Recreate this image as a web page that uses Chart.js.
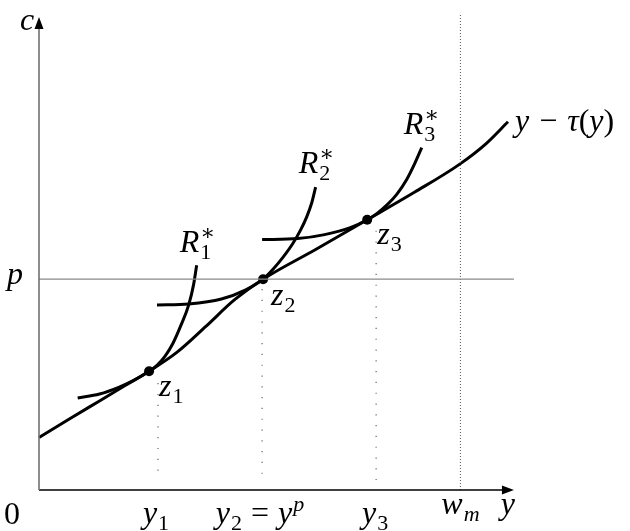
<!DOCTYPE html>
<html>
<head>
  <title>Net income and reference curves</title>
  <style>
    html, body { margin: 0; padding: 0; background: #fff; }
  </style>
</head>
<body>
  <canvas id="myChart" width="630" height="531"></canvas>
  <script src="https://cdn.jsdelivr.net/npm/chart.js@4.4.0/dist/chart.umd.min.js"></script>

  <script>
    // net income curve y - tau(y)
    const netX = [0, 31, 61, 86, 111, 139, 168, 197, 226, 279, 331, 379, 424, 451, 473];
    const netY = [53, 72, 90, 105, 120, 139, 165, 192, 213, 243, 273, 301, 329, 350, 372];

    // reference curves R1*, R2*, R3*
    const r1X = [39, 61, 81, 96, 111, 119, 127, 135, 143, 151, 156, 159];
    const r1Y = [93, 97, 104, 111, 120, 126, 135, 148, 166, 187, 208, 227];
    const r2X = [119, 151, 184, 208, 226, 236, 246, 256, 264, 270, 275, 279];
    const r2Y = [187, 188, 193, 202, 213, 223, 235, 249, 263, 276, 290, 306];
    const r3X = [225, 261, 288, 314, 331, 341, 351, 361, 371, 379, 386];
    const r3Y = [253, 254, 258, 265, 273, 279.5, 288, 299, 314, 330, 346];

    // tangency points z1, z2, z3
    const zX = [111, 226, 331];
    const zY = [120, 213, 273];

    // x positions of the y1, y2, y3 guides and where they start
    const guideX = [120, 225, 340];
    const guideTop = [108, 203, 262];
    const guideBottom = 10;

    const pLevel = 213;
    const wmX = 425;
    const xAxisEnd = 479;
    const yAxisEnd = 478;

    const toPts = (xs, ys) => xs.map((x, i) => ({ x: x, y: ys[i] }));

    function curve(xs, ys) {
      return {
        data: toPts(xs, ys),
        showLine: true,
        borderColor: '#000',
        borderWidth: 3,
        pointRadius: 0,
        cubicInterpolationMode: 'monotone',
        clip: false
      };
    }

    function rule(pts, color, width, dash) {
      return {
        data: pts,
        showLine: true,
        borderColor: color,
        borderWidth: width,
        borderDash: dash || [],
        pointRadius: 0,
        clip: false
      };
    }

    let datasets = [
      rule([{ x: 0, y: 0 }, { x: 0, y: yAxisEnd - 8 }], '#707070', 1.6),
      rule([{ x: 0, y: 0 }, { x: xAxisEnd - 8, y: 0 }], '#000', 1.6),
      rule([{ x: 0, y: pLevel }, { x: xAxisEnd, y: pLevel }], '#8a8a8a', 1.2),
      rule([{ x: wmX, y: 0 }, { x: wmX, y: yAxisEnd + 4 }], '#555', 1, [1, 2])
    ];
    guideX.forEach((gx, i) => {
      datasets.push(rule([{ x: gx, y: guideTop[i] }, { x: gx, y: guideBottom }], '#666', 1.2, [1.2, 9.6]));
    });
    datasets.push(curve(netX, netY));
    datasets.push(curve(r1X, r1Y));
    datasets.push(curve(r2X, r2Y));
    datasets.push(curve(r3X, r3Y));
    datasets.push({
      data: toPts(zX, zY),
      showLine: false,
      pointRadius: 5,
      pointBackgroundColor: '#000',
      pointBorderColor: '#000',
      pointBorderWidth: 0,
      clip: false
    });

    const BASE = 32, SCRIPT = 22;
    const IT = '"Liberation Serif", "DejaVu Serif", serif';

    // a label is a list of segments: [kind, text, (text2)]
    function segFont(k) {
      if (k === 'i') return 'italic ' + BASE + 'px ' + IT;
      if (k === 'r') return BASE + 'px ' + IT;
      if (k === 'isub' || k === 'isup') return 'italic ' + SCRIPT + 'px ' + IT;
      return SCRIPT + 'px ' + IT;
    }

    function segWidth(ctx, s) {
      if (s[0] === 'gap') return s[1];
      ctx.font = segFont(s[0]);
      if (s[0] === 'subsup') return Math.max(ctx.measureText(s[1]).width, ctx.measureText(s[2]).width) + 1;
      if (s[0] === 'i' || s[0] === 'r') return ctx.measureText(s[1]).width;
      return ctx.measureText(s[1]).width + 1;
    }

    function drawMath(ctx, segs, x, y, align) {
      let w = segs.reduce((a, s) => a + segWidth(ctx, s), 0);
      let cx = align === 'center' ? x - w / 2 : x;
      ctx.textAlign = 'left';
      ctx.textBaseline = 'alphabetic';
      ctx.fillStyle = '#000';
      segs.forEach(s => {
        let k = s[0];
        let sw = segWidth(ctx, s);
        if (k === 'gap') { cx += sw; return; }
        ctx.font = segFont(k);
        if (k === 'i' || k === 'r') {
          ctx.fillText(s[1], cx, y);
        } else if (k === 'subsup') {
          ctx.fillText(s[1], cx + 1, y - 12);
          ctx.fillText(s[2], cx + 1, y + 7);
        } else {
          let dy = (k === 'sub' || k === 'isub') ? 7 : -12;
          ctx.fillText(s[1], cx + 1, y + dy);
        }
        cx += sw;
      });
    }

    const labelPlugin = {
      id: 'labels',
      afterDatasetsDraw(chart) {
        const ctx = chart.ctx;
        const xs = chart.scales.x, ys = chart.scales.y;
        const px = v => xs.getPixelForValue(v);
        const py = v => ys.getPixelForValue(v);
        ctx.save();

        // arrow heads
        ctx.fillStyle = '#000';
        ctx.beginPath();
        ctx.moveTo(px(0), py(yAxisEnd));
        ctx.lineTo(px(0) - 4.5, py(yAxisEnd) + 12);
        ctx.lineTo(px(0) + 4.5, py(yAxisEnd) + 12);
        ctx.closePath();
        ctx.fill();
        ctx.beginPath();
        ctx.moveTo(px(xAxisEnd), py(0));
        ctx.lineTo(px(xAxisEnd) - 12, py(0) - 4.5);
        ctx.lineTo(px(xAxisEnd) - 12, py(0) + 4.5);
        ctx.closePath();
        ctx.fill();

        // axis and tick labels
        drawMath(ctx, [['i', 'c']], px(0) - 12, py(yAxisEnd) + 13, 'center');
        drawMath(ctx, [['i', 'p']], px(0) - 24, py(pLevel) + 5, 'center');
        drawMath(ctx, [['r', '0']], px(0) - 27, py(0) + 34, 'center');
        drawMath(ctx, [['i', 'y'], ['sub', '1']], px(guideX[0]) - 2, py(0) + 33, 'center');
        drawMath(ctx, [['i', 'y'], ['sub', '2'], ['gap', 9], ['r', '='], ['gap', 9], ['i', 'y'], ['isup', 'p']], px(guideX[1]) - 2, py(0) + 33, 'center');
        drawMath(ctx, [['i', 'y'], ['sub', '3']], px(guideX[2]) - 1, py(0) + 33, 'center');
        drawMath(ctx, [['i', 'w'], ['isub', 'm']], px(wmX), py(0) + 24, 'center');
        drawMath(ctx, [['i', 'y']], px(xAxisEnd) - 6, py(0) + 24, 'center');

        // tangency labels
        drawMath(ctx, [['i', 'z'], ['sub', '1']], px(zX[0]) + 10, py(zY[0]) + 25, 'left');
        drawMath(ctx, [['i', 'z'], ['sub', '2']], px(zX[1]) + 8, py(zY[1]) + 26, 'left');
        drawMath(ctx, [['i', 'z'], ['sub', '3']], px(zX[2]) + 10, py(zY[2]) + 24, 'left');

        // curve names
        const last = a => a[a.length - 1];
        drawMath(ctx, [['i', 'R'], ['subsup', '\u2217', '1']], px(last(r1X)) - 17, py(last(r1Y)) - 13, 'left');
        drawMath(ctx, [['i', 'R'], ['subsup', '\u2217', '2']], px(last(r2X)) - 17, py(last(r2Y)) - 14, 'left');
        drawMath(ctx, [['i', 'R'], ['subsup', '\u2217', '3']], px(last(r3X)) - 18, py(last(r3Y)) - 14, 'left');
        drawMath(ctx, [['i', 'y'], ['gap', 10], ['r', '\u2212'], ['gap', 10], ['i', '\u03c4'], ['r', '('], ['i', 'y'], ['r', ')']],
          px(last(netX)) + 7, py(last(netY)) + 9, 'left');

        ctx.restore();
      }
    };

    new Chart(document.getElementById('myChart'), {
      type: 'scatter',
      data: { datasets: datasets },
      options: {
        responsive: false,
        animation: false,
        devicePixelRatio: 1,
        layout: { padding: { left: 39, right: 0, top: 0, bottom: 41 } },
        plugins: { legend: { display: false }, tooltip: { enabled: false } },
        scales: {
          x: { type: 'linear', min: 0, max: 591, display: false },
          y: { type: 'linear', min: 0, max: 490, display: false }
        }
      },
      plugins: [labelPlugin]
    });
  </script>
</body>
</html>
